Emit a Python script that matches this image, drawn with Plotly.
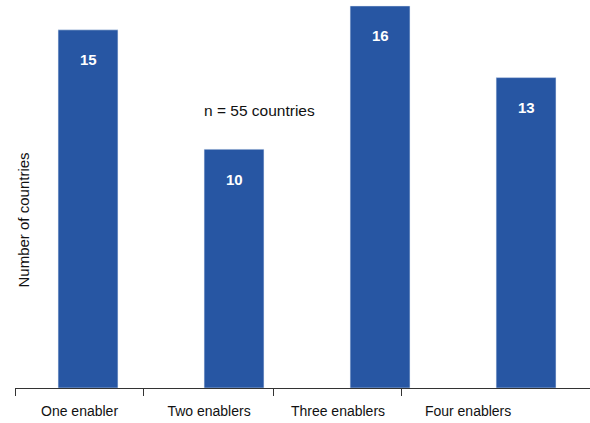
import plotly.graph_objects as go

categories = ["One enabler", "Two enablers", "Three enablers", "Four enablers"]
values = [15, 10, 16, 13]
note_text = "n = 55 countries"
y_title = "Number of countries"
tick_marks = [-0.5, 0.377, 1.267, 2.144]
label_positions = [-0.058, 0.829, 1.712, 2.603]

bar_color = "#2756a3"
font_family = "Liberation Sans, Arial, Helvetica, sans-serif"

fig = go.Figure()
fig.add_trace(go.Bar(
    x=categories, y=values, marker_color=bar_color, width=0.41,
    hoverinfo="skip", showlegend=False,
))
# invisible traces carrying the secondary axes (tick marks and labels)
fig.add_trace(go.Scatter(x=[tick_marks[0]], y=[0], xaxis="x2", mode="markers",
                         marker=dict(opacity=0), showlegend=False, hoverinfo="skip"))
fig.add_trace(go.Scatter(x=[label_positions[0]], y=[0], xaxis="x3", mode="markers",
                         marker=dict(opacity=0), showlegend=False, hoverinfo="skip"))

for c, v in zip(categories, values):
    fig.add_annotation(x=c, y=v, text=str(v), showarrow=False, yshift=-30,
                       font=dict(family=font_family, size=15, color="white", weight="bold"))

fig.add_annotation(xref="paper", yref="paper", x=0.426, y=0.716, xanchor="center", yanchor="middle",
                   text=note_text, showarrow=False,
                   font=dict(family=font_family, size=15.5, color="#111111"))
fig.add_annotation(xref="paper", yref="paper", x=0.0139, y=0.433, text=y_title, textangle=-90,
                   xshift=-9, showarrow=False,
                   font=dict(family=font_family, size=15, color="#111111"))

xr = [-0.5, 3.438]
fig.update_layout(
    width=590, height=423,
    margin=dict(l=15, r=0, t=0, b=35),
    plot_bgcolor="white", paper_bgcolor="white",
    hovermode=False,
    font=dict(family=font_family, size=14, color="#111111"),
    xaxis=dict(range=xr, showgrid=False, zeroline=False, showline=True,
               linecolor="#333333", linewidth=1, ticks="", showticklabels=False),
    xaxis2=dict(range=xr, overlaying="x", side="bottom", anchor="y", tickmode="array",
                tickvals=tick_marks, ticks="outside", ticklen=7, tickcolor="#333333",
                showticklabels=False, showgrid=False, zeroline=False, showline=False),
    xaxis3=dict(range=xr, overlaying="x", side="bottom", anchor="y", tickmode="array",
                tickvals=label_positions, ticktext=categories, ticks="",
                ticklabelstandoff=13, tickfont=dict(size=14, color="#111111"),
                showgrid=False, zeroline=False, showline=False),
    yaxis=dict(range=[0, 16.25], visible=False, showgrid=False),
)
fig.write_html("out.html", config={"displayModeBar": False},
               post_script="document.body.style.margin='0';document.body.style.overflow='hidden';")
